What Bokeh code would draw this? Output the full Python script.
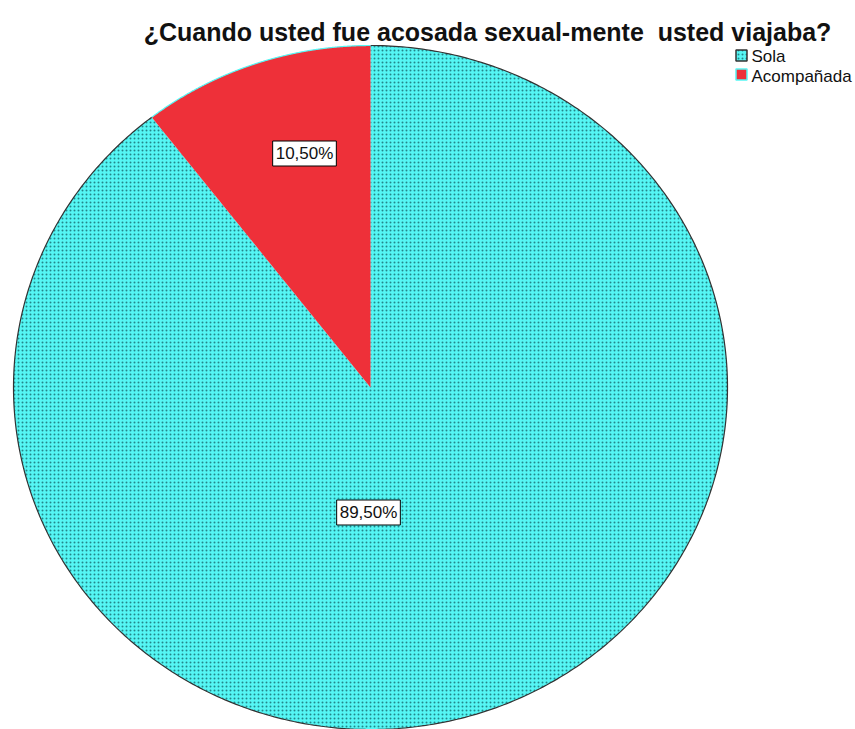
import numpy as np
from bokeh.plotting import figure
from bokeh.models import Range1d, ColumnDataSource
from bokeh.core.properties import value
from bokeh.embed import file_html
from bokeh.resources import INLINE

title_text = "¿Cuando usted fue acosada sexual-mente\u00a0 usted viajaba?"
categories = ["Sola", "Acompañada"]
percentages = [89.5, 10.5]
labels = ["89,50%", "10,50%"]

W, H = 855, 729
p = figure(width=W, height=H, output_backend="svg", toolbar_location=None,
           x_range=Range1d(0, W), y_range=Range1d(H, 0), min_border=0)
p.axis.visible = False
p.grid.visible = False
p.outline_line_color = None
p.background_fill_color = "white"

cx, cy, rx, ry = 370, 387, 357, 342
fills = ["#55F6F4", "#EE3039"]
edge_colors = ["#333333", "#55F6F4"]
hatches = ["dot", " "]

fracs = np.array(percentages) / 100.0
starts = np.concatenate([[0], np.cumsum(fracs)[:-1]]) * 2 * np.pi
ends = np.cumsum(fracs) * 2 * np.pi
xs, ys, axs, ays = [], [], [], []
for s, e in zip(starts, ends):
    t = np.linspace(s, e, 500)
    ax = cx + rx * np.sin(t)
    ay = cy - ry * np.cos(t)
    xs.append(np.concatenate([[cx], ax]).tolist())
    ys.append(np.concatenate([[cy], ay]).tolist())
    axs.append(ax.tolist())
    ays.append(ay.tolist())

src = ColumnDataSource(dict(xs=xs, ys=ys, fill=fills, hatch=hatches, cat=categories))
p.patches("xs", "ys", source=src, fill_color="fill", line_color=None,
          hatch_pattern="hatch", hatch_color="#23868A", hatch_scale=4, hatch_weight=2.5,
          hatch_alpha=1.0)
p.multi_line(axs, ays, line_color=edge_colors, line_width=1.2)

# labels with boxes (layout positions)
label_x = [368, 304]
label_y = [512, 153]
p.text(x=label_x, y=label_y, text=labels, text_font=value("Liberation Sans"),
       text_font_size="17px", text_align="center", text_baseline="middle",
       text_color="#111111", background_fill_color="white",
       border_line_color="black", border_line_width=1, padding=3)

# title
p.text(x=[487], y=[31], text=[title_text], text_font=value("Liberation Sans"),
       text_font_size="25px", text_font_style="bold", text_align="center",
       text_baseline="middle", text_color="#111111")

# legend
p.rect(x=[741, 741], y=[55, 74], width=11, height=11,
       fill_color=fills, line_color=["#333333", "#55F6F4"], line_width=1.5,
       hatch_pattern=hatches, hatch_color="#23868A", hatch_scale=4, hatch_weight=2.5)
p.text(x=[751, 751], y=[56, 76], text=categories, text_font=value("Liberation Sans"),
       text_font_size="17px", text_align="left", text_baseline="middle", text_color="#111111")

open("out.html", "w").write(file_html(p, INLINE))
